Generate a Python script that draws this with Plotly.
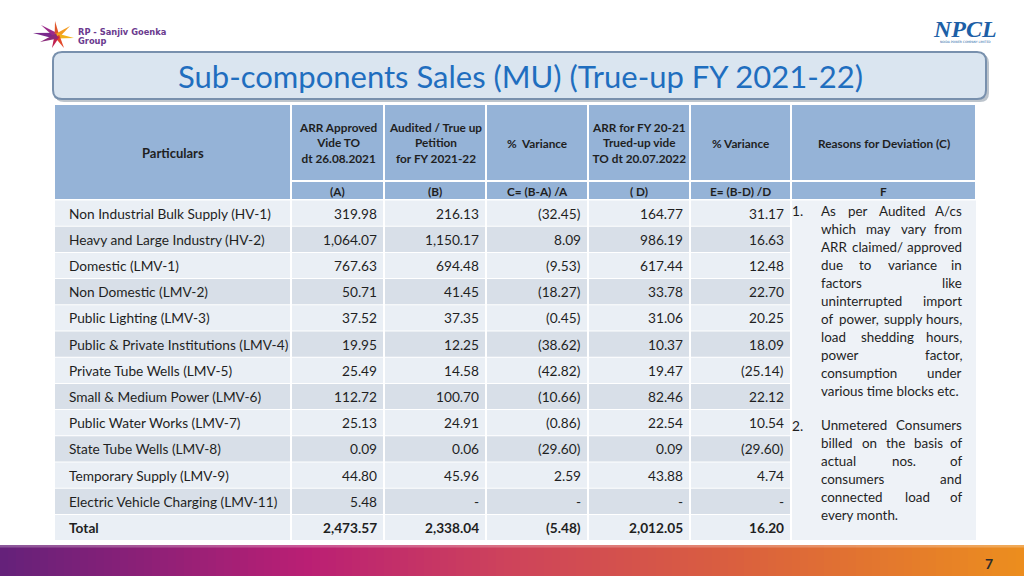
import plotly.graph_objects as go

# ---------------- data ----------------
categories = [
    "Non Industrial Bulk Supply (HV-1)",
    "Heavy and Large Industry (HV-2)",
    "Domestic (LMV-1)",
    "Non Domestic (LMV-2)",
    "Public Lighting (LMV-3)",
    "Public & Private Institutions (LMV-4)",
    "Private Tube Wells (LMV-5)",
    "Small & Medium Power (LMV-6)",
    "Public Water Works (LMV-7)",
    "State Tube Wells (LMV-8)",
    "Temporary Supply (LMV-9)",
    "Electric Vehicle Charging (LMV-11)",
]
arr_approved_A = [319.98, 1064.07, 767.63, 50.71, 37.52, 19.95, 25.49, 112.72, 25.13, 0.09, 44.80, 5.48]
audited_B = [216.13, 1150.17, 694.48, 41.45, 37.35, 12.25, 14.58, 100.70, 24.91, 0.06, 45.96, None]
variance_C = [-32.45, 8.09, -9.53, -18.27, -0.45, -38.62, -42.82, -10.66, -0.86, -29.60, 2.59, None]
arr_trued_D = [164.77, 986.19, 617.44, 33.78, 31.06, 10.37, 19.47, 82.46, 22.54, 0.09, 43.88, None]
variance_E = [31.17, 16.63, 12.48, 22.70, 20.25, 18.09, -25.14, 22.12, 10.54, -29.60, 4.74, None]
total_label = "Total"
totals = [2473.57, 2338.04, -5.48, 2012.05, 16.20]

header_particulars = "Particulars"
header_top = [
    "ARR Approved<br>Vide TO<br>dt 26.08.2021",
    "Audited / True up<br>Petition<br>for FY 2021-22",
    "%  Variance",
    "ARR for FY 20-21<br>Trued-up vide<br>TO dt 20.07.2022",
    "% Variance",
    "Reasons for Deviation (C)",
]
header_codes = ["(A)", "(B)", "C= (B-A) /A", "( D)", "E= (B-D) /D", "F"]

reason_1 = [
    "As per Audited A/cs",
    "which may vary from",
    "ARR claimed/ approved",
    "due to variance in",
    "factors like",
    "uninterrupted import",
    "of power, supply hours,",
    "load shedding hours,",
    "power factor,",
    "consumption under",
    "various time blocks etc.",
]
reason_2 = [
    "Unmetered Consumers",
    "billed on the basis of",
    "actual nos. of",
    "consumers and",
    "connected load of",
    "every month.",
]
title_text = "Sub-components Sales (MU) (True-up FY 2021-22)"
page_number = "7"

# ---------------- layout constants ----------------
FONT = "Lato"
W, H = 1024, 576
col_x = [55, 291, 384, 486, 588, 690, 791, 976]
hdr_top, hdr_mid, hdr_row2, hdr_bot = 105, 180, 182, 199
body_top, row_h = 200, 26.2
HEADER_FILL = "#95b3d7"
ROW_LIGHT = "#eaeff5"
ROW_DARK = "#d8dfe8"
TEXT = "#1f1f1f"
BODY_SIZE = 13.7
REASON_SIZE = 13.4

shapes = []
ann = []


def rect(x0, y0, x1, y1, fill, lw=0, lc=None, layer="below", opacity=1):
    shapes.append(dict(type="rect", xref="x", yref="y", x0=x0, y0=y0, x1=x1, y1=y1,
                       fillcolor=fill, line=dict(width=lw, color=lc or fill),
                       layer=layer, opacity=opacity))


def text(x, y, s, size=13, color=TEXT, bold=False, xanchor="center", family=FONT, yanchor="middle"):
    ann.append(dict(x=x, y=y, xref="x", yref="y", text=(f"<b>{s}</b>" if bold else s),
                    showarrow=False, xanchor=xanchor, yanchor=yanchor,
                    font=dict(size=size, color=color, family=family), borderpad=0))


def fmt(v):
    if v is None:
        return "-"
    s = f"{abs(v):,.2f}"
    return f"({s})" if v < 0 else s


# ---------------- logos ----------------
cx, cy = 57, 36
spikes = [
    ((33, 33), "#7a2a8c", 3.2),
    ((41, 25), "#9b2a8a", 2.6),
    ((55, 21), "#e0552a", 2.4),
    ((70, 26), "#f39a1f", 2.6),
    ((74, 38), "#f2b21a", 2.4),
    ((64, 48), "#e2492b", 2.6),
    ((52, 48), "#c02050", 2.6),
    ((40, 42), "#8a2a7a", 2.6),
]
for (tx, ty), col, wdt in spikes:
    dx, dy = tx - cx, ty - cy
    ln = (dx * dx + dy * dy) ** 0.5
    px, py = -dy / ln * wdt, dx / ln * wdt
    path = f"M {cx+px},{cy+py} L {tx},{ty} L {cx-px},{cy-py} Z"
    shapes.append(dict(type="path", xref="x", yref="y", path=path, fillcolor=col,
                       line=dict(width=0), layer="above"))
text(77, 32, "RP - Sanjiv Goenka", size=8.3, color="#6b3a8e", bold=True, xanchor="left", family="DejaVu Sans")
text(77, 41, "Group", size=8.3, color="#6b3a8e", bold=True, xanchor="left", family="DejaVu Sans")

text(965, 29, "<i>NPCL</i>", size=24, color="#1d5fa6", bold=True, family="Liberation Serif")
text(965, 42, "NOIDA POWER COMPANY LIMITED", size=3, color="#1d5fa6", family="DejaVu Sans")

# ---------------- title box ----------------
def rounded(x0, y0, x1, y1, r):
    return (f"M {x0+r},{y0} L {x1-r},{y0} Q {x1},{y0} {x1},{y0+r} L {x1},{y1-r} "
            f"Q {x1},{y1} {x1-r},{y1} L {x0+r},{y1} Q {x0},{y1} {x0},{y1-r} "
            f"L {x0},{y0+r} Q {x0},{y0} {x0+r},{y0} Z")

shapes.append(dict(type="path", xref="x", yref="y", path=rounded(55, 54, 989, 102, 9),
                   fillcolor="#bcc4cc", line=dict(width=0), layer="below"))
shapes.append(dict(type="path", xref="x", yref="y", path=rounded(53, 52, 986, 99, 9),
                   fillcolor="#dae5f0", line=dict(width=2, color="#7890ad"), layer="below"))
text(520, 76, title_text, size=31, color="#1f6ebf")

# ---------------- header ----------------
rect(col_x[0], hdr_top, col_x[1] - 1, hdr_bot, HEADER_FILL)
text((col_x[0] + col_x[1]) / 2, 153, header_particulars, size=13, bold=True)
for i in range(6):
    x0, x1 = col_x[i + 1] + 1, col_x[i + 2] - 1
    rect(x0, hdr_top, x1, hdr_mid, HEADER_FILL)
    rect(x0, hdr_row2, x1, hdr_bot, HEADER_FILL)
    text((x0 + x1) / 2, 143, header_top[i], size=11.8, bold=True)
    text((x0 + x1) / 2, 191, header_codes[i], size=11.8, bold=True)

# ---------------- body ----------------
columns = [arr_approved_A, audited_B, variance_C, arr_trued_D, variance_E]
n = len(categories)
for r in range(n + 1):
    y0 = body_top + r * row_h
    y1 = y0 + row_h
    yc = (y0 + y1) / 2
    fill = ROW_LIGHT if r % 2 == 0 else ROW_DARK
    for c in range(6):
        rect(col_x[c] + (0 if c == 0 else 1), y0 + 0.5, col_x[c + 1] - 1, y1 - 0.5, fill)
    if r < n:
        text(68, yc, categories[r], size=BODY_SIZE, xanchor="left")
        for c, col in enumerate(columns):
            text(col_x[c + 2] - 6, yc, fmt(col[r]), size=BODY_SIZE, xanchor="right")
    else:
        text(68, yc, total_label, size=BODY_SIZE, bold=True, xanchor="left")
        for c, v in enumerate(totals):
            text(col_x[c + 2] - 6, yc, fmt(v), size=BODY_SIZE, bold=True, xanchor="right")

body_bot = body_top + (n + 1) * row_h
rect(col_x[6] + 1, body_top + 0.5, col_x[7], body_bot - 0.5, "#eef2f7")

# ---------------- justified reasons (Lato advance widths, em) ----------------
LATO_W = {
    "a": .507, "b": .560, "c": .461, "d": .560, "e": .530, "f": .322, "g": .498, "h": .558,
    "i": .238, "j": .238, "k": .510, "l": .238, "m": .838, "n": .558, "o": .560, "p": .553,
    "q": .560, "r": .370, "s": .424, "t": .348, "u": .558, "v": .508, "w": .774, "x": .490,
    "y": .508, "z": .454, "A": .676, "C": .660, "R": .598, "U": .690, ".": .208, ",": .208,
    "/": .382, " ": .193,
}


def words_w(w, size):
    return sum(LATO_W.get(ch, .62) for ch in w) * size


def justified(lines, y_start, pitch, x_left, x_right, size, last_left=True):
    for k, line in enumerate(lines):
        y = y_start + k * pitch
        words = line.split(" ")
        is_last = (k == len(lines) - 1)
        if len(words) == 1 or (is_last and last_left):
            text(x_left, y, line, size=size, xanchor="left")
            continue
        widths = [words_w(w, size) for w in words]
        gap = (x_right - x_left - sum(widths)) / (len(words) - 1)
        x = x_left
        for j, w in enumerate(words):
            if j == len(words) - 1:
                text(x_right, y, w, size=size, xanchor="right")
            else:
                text(x, y, w, size=size, xanchor="left")
            x += widths[j] + gap


text(791, 210, "1.", size=BODY_SIZE, xanchor="left")
justified(reason_1, 211, 18, 820, 963, REASON_SIZE, last_left=True)
text(791, 425, "2.", size=BODY_SIZE, xanchor="left")
justified(reason_2, 425, 18, 820, 963, REASON_SIZE, last_left=True)

# ---------------- bottom gradient bar ----------------
stops = [(0.0, (100, 33, 122)), (0.3, (186, 31, 116)), (0.5, (206, 68, 90)),
         (0.72, (218, 96, 62)), (1.0, (236, 142, 30))]


def grad(t):
    for (t0, c0), (t1, c1) in zip(stops[:-1], stops[1:]):
        if t0 <= t <= t1:
            f = (t - t0) / (t1 - t0)
            return "rgb(%d,%d,%d)" % tuple(round(a + (b - a) * f) for a, b in zip(c0, c1))
    return "rgb(%d,%d,%d)" % stops[-1][1]


nseg = 128
for k in range(nseg):
    x0 = W * k / nseg
    x1 = W * (k + 1) / nseg + 0.6
    rect(x0, 545, x1, H, grad((k + 0.5) / nseg))
rect(0, 545, W, 547.5, "white", opacity=0.25)
text(989, 563, page_number, size=14, bold=True, color="#2b2b2b")

fig = go.Figure()
fig.update_layout(
    width=W, height=H, margin=dict(l=0, r=0, t=0, b=0),
    paper_bgcolor="white", plot_bgcolor="white",
    xaxis=dict(range=[0, W], visible=False, fixedrange=True),
    yaxis=dict(range=[H, 0], visible=False, fixedrange=True),
    shapes=shapes, annotations=ann, showlegend=False,
)
fig.write_html(
    "out.html",
    config={"displayModeBar": False},
    post_script="document.body.style.margin='0';document.body.style.padding='0';",
)
